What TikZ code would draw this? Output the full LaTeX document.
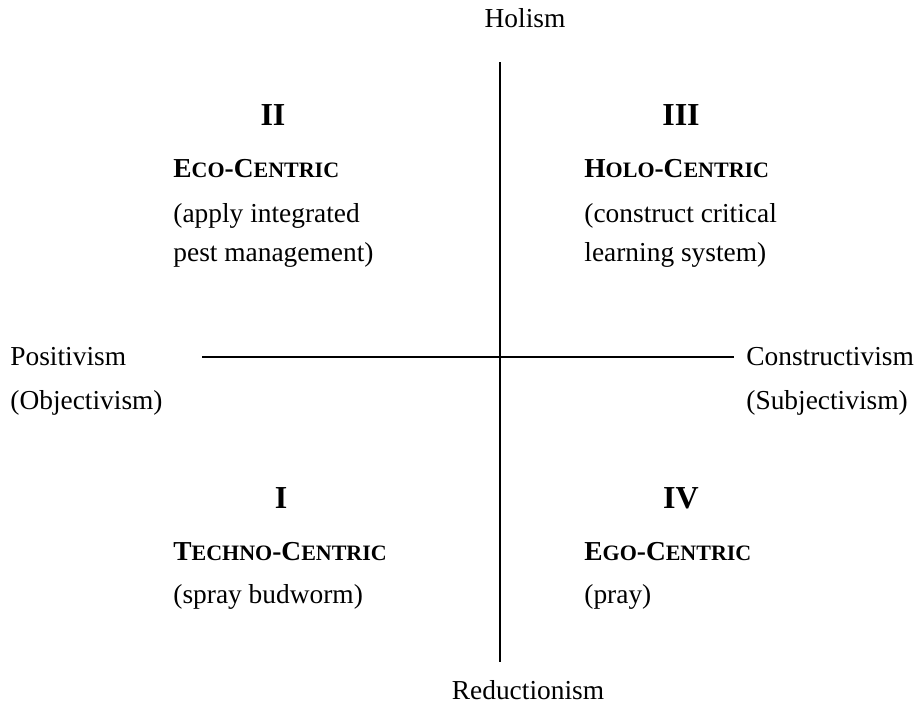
\documentclass[tikz,border=0pt]{standalone}
\usepackage{fontspec}
\setmainfont{Liberation Serif}
\newcommand{\capsmall}[2]{#1{\fontsize{11pt}{13pt}\selectfont #2}}

\begin{document}
\begin{tikzpicture}[
        x=0.5pt, y=-0.5pt,
        every node/.style={inner sep=0pt, font=\fontsize{13.7pt}{18pt}\selectfont},
        numeral/.style={anchor=base, font=\fontsize{16pt}{18pt}\selectfont\bfseries},
        heading/.style={anchor=base west, font=\fontsize{13.7pt}{18pt}\selectfont\bfseries},
        textline/.style={anchor=base west},
        axis/.style={line width=1pt}]
        \useasboundingbox (0,0) rectangle (914,703);
        % AXIS ENDS
        \coordinate (top) at (500,62);
        \coordinate (bottom) at (500,662);
        \coordinate (left) at (202,357);
        \coordinate (right) at (734,357);
        % AXIS LABELS
        \node[anchor=base] (holism) at (525,27) {Holism};
        \node[anchor=base] (reduct) at (528,699) {Reductionism};
        \node[textline] (posit) at (10,365) {Positivism};
        \node[textline] (object) at (10,409) {(Objectivism)};
        \node[textline] (construct) at (746,365) {Constructivism};
        \node[textline] (subject) at (746,409) {(Subjectivism)};
        % QUADRANT II
        \node[numeral] (numII) at (273,125) {II};
        \node[heading] (eco) at (173,177) {\capsmall{E}{CO}-\capsmall{C}{ENTRIC}};
        \node[textline] (ecoA) at (173,222) {(apply integrated};
        \node[textline] (ecoB) at (173,261) {pest management)};
        % QUADRANT III
        \node[numeral] (numIII) at (681,125) {III};
        \node[heading] (holo) at (584,177) {\capsmall{H}{OLO}-\capsmall{C}{ENTRIC}};
        \node[textline] (holoA) at (584,222) {(construct critical};
        \node[textline] (holoB) at (584,261) {learning system)};
        % QUADRANT I
        \node[numeral] (numI) at (281,508) {I};
        \node[heading] (techno) at (173,560) {\capsmall{T}{ECHNO}-\capsmall{C}{ENTRIC}};
        \node[textline] (technoA) at (173,603) {(spray budworm)};
        % QUADRANT IV
        \node[numeral] (numIV) at (681,508) {IV};
        \node[heading] (ego) at (584,560) {\capsmall{E}{GO}-\capsmall{C}{ENTRIC}};
        \node[textline] (egoA) at (584,603) {(pray)};
        
        % AXES
        \draw[axis] (top)--(bottom);
        \draw[axis] (left)--(right);
    \end{tikzpicture}
\end{document}
